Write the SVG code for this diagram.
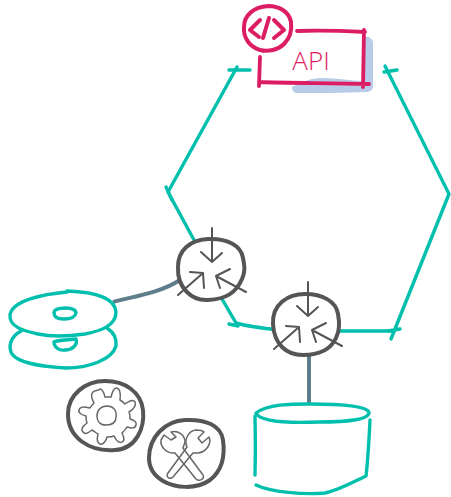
<svg xmlns="http://www.w3.org/2000/svg" width="451" height="497" viewBox="0 0 451 497">
<defs><style>
.t{fill:none;stroke:#00bfad;stroke-width:3.4;stroke-linecap:round;stroke-linejoin:round}
.g{fill:none;stroke:#607d8b;stroke-width:4;stroke-linecap:butt}
.c{fill:#fff;stroke:#555;stroke-width:4;stroke-linejoin:round}
.a{fill:none;stroke:#555;stroke-width:2;stroke-linecap:round;stroke-linejoin:round}
.i{fill:none;stroke:#666;stroke-width:1.5;stroke-linejoin:round;stroke-linecap:round}
.p{fill:none;stroke:#dc1c63;stroke-width:3.8;stroke-linecap:round;stroke-linejoin:round}
</style>
<g id="merge"><path class="a" d="M1 -34L1 0M-10 -10L1 0L11 -9M-33 33L-8 11M-21 10L-8 11L-7 26M35 30L5 14M19 7L5 14L9 26"/></g></defs>
<g id="connectors">
<path class="t" d="M237 67L168 192L194 240"/>
<path class="t" d="M229 70L250 70M166 187L172 200"/>
<path class="t" d="M385 66L449 194L391 339M384 72L397 70M388 331L400 329"/>
<path class="t" d="M222 299L236 323C250 327 260 328 280 330M336 331L392 331"/>
<path class="t" d="M229 324L238 326"/>
<path class="g" d="M113 302C135 296 160 293 180 280"/>
<path class="g" d="M309 350L309 405"/>
</g>
<g id="api">
<path fill="#b8cbe8" d="M362 36C368 36 372 38 373 42L373 86C373 90 370 92 366 92C345 93 315 93 298 93C294 93 292 91 292 87C300 83 310 78 322 78C340 78 350 81 362 81Z"/>
<path class="p" d="M297 31C320 30 345 31 365 32M364 30L363 87M259 82C290 83 330 83 369 84M260 57L259 86"/>
<text x="311" y="70" font-family="'Open Sans','Noto Sans',sans-serif" font-weight="300" font-size="26" fill="#dc1c63" text-anchor="middle">API</text>
</g>
<g id="code">
<path fill="#fff" stroke="#dc1c63" stroke-width="4" stroke-linejoin="round" d="M244 27C244 15 254 7 268 6C280 6 289 12 291 22C292 30 290 38 284 44C278 50 268 52 260 50C250 47 243 38 244 27Z"/>
<path d="M260 20L250 30L259 37M274 20L284 30L274 38M269 18L263 38" fill="none" stroke="#dc1c63" stroke-width="4" stroke-linecap="round" stroke-linejoin="round"/>
</g>
<g id="router1">
<path class="c" d="M178 267C178 250 190 240 208 239C226 238 241 245 243 258C245 268 245 272 242 279C236 293 226 299 208 300C192 301 177 288 178 267Z"/>
<use href="#merge" x="211" y="262"/>
</g>
<g id="router2">
<path class="c" d="M273 324C272 304 288 294 305 294C322 294 336 301 338 314C340 324 339 332 336 338C330 351 318 355 303 355C286 355 274 344 273 324Z"/>
<use href="#merge" x="307" y="316"/>
</g>
<g id="disks">
<path class="t" d="M21 331C10 337 8 347 12 354C20 365 50 367 66 368C88 368 112 360 116 346C117 338 113 332 107 328"/>
<path class="t" d="M54 342C57 340 68 340 76 339C78 345 72 350 65 350C59 351 54 347 54 342Z"/>
<path class="t" d="M67 292C45 294 12 300 10 315C9 327 24 331 38 334C52 337 70 336 85 334C100 331 116 326 116 312C115 298 95 292 67 291"/>
<path class="t" d="M54 313C54 309 60 308 66 308C72 308 76 310 76 313C75 318 70 319 64 319C58 319 54 317 54 313Z"/>
</g>
<g id="gear">
<path class="c" fill="none" d="M68 414C68 395 85 381 105 381C125 381 141 392 143 410C145 428 136 449 115 450C90 452 68 438 68 414Z"/>
<path class="i" d="M100 389C103 389 104 393 105 397C107 397 109 397 111 397C112 393 114 387 117 388C120 389 121 392 120 400C122 401 124 403 125 404C129 401 133 399 135 402C136 405 134 409 129 412C130 414 130 417 130 419C134 420 137 422 136 425C135 429 131 428 127 427C126 429 124 431 122 433C124 437 125 441 122 442C119 444 116 440 114 436C112 437 109 437 107 437C106 441 103 445 100 444C97 443 97 438 98 434C96 433 94 431 92 430C88 433 85 435 83 432C80 429 84 425 87 423C86 421 86 418 86 416C82 415 78 413 79 410C80 406 85 407 90 408C91 406 93 404 94 403C92 399 90 395 93 392C95 390 98 391 100 389Z"/>
<path class="i" d="M97 416C97 410 101 406 107 406C113 406 117 410 116 417C116 423 112 425 106 425C100 425 97 421 97 416Z"/>
</g>
<g id="tools">
<path class="c" fill="none" d="M149 458C149 437 165 421 185 420C205 419 221 425 223 440C225 455 223 470 210 480C196 490 175 488 163 481C153 475 149 468 149 458Z"/>
<path class="i" d="M164 435L171 440L176 437L171 432C178 430 185 435 185 442L183 448L203 475C205 479 199 482 196 479L175 453C167 454 160 447 161 440Z"/>
<path class="i" d="M204 432L198 438L202 443L209 437C212 444 206 452 198 453L193 453L173 477C170 480 165 477 168 473L187 447C184 440 188 431 196 430C198 430 202 430 204 432Z"/>
</g>
<g id="database">
<path class="t" d="M256 413C268 404 290 404 310 404C335 404 365 405 369 412C370 420 345 422 320 422C295 423 260 423 256 413Z"/>
<path class="t" d="M255 416C255 428 256 440 255 475M370 420C369 440 368 460 366 476C355 481 340 490 325 493C305 495 270 492 256 485"/>
</g>
</svg>
